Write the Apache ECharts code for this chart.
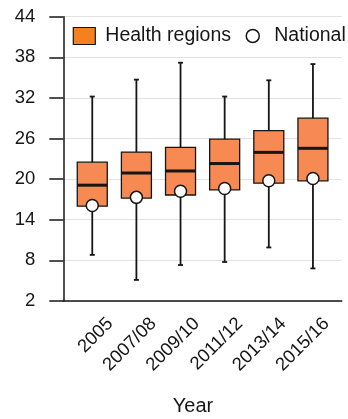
<!DOCTYPE html>
<html>
<head>
<meta charset="utf-8">
<script src="https://cdn.jsdelivr.net/npm/echarts@6/dist/echarts.min.js"></script>
<style>
  html, body { margin: 0; padding: 0; background: #fff; }
  #chart { width: 348px; height: 419px; }
</style>
</head>
<body>
<div id="chart"></div>
<script>
// Survey years
const categories = ['2005', '2007/08', '2009/10', '2011/12', '2013/14', '2015/16'];

// Distribution across health regions (%)
const whiskerLow  = [8.8, 5.1, 7.3, 7.75, 9.9, 6.8];
const quartile1   = [16.0, 17.2, 17.65, 18.4, 19.4, 19.75];
const medians     = [19.1, 20.9, 21.2, 22.3, 23.95, 24.55];
const quartile3   = [22.5, 24.0, 24.7, 25.9, 27.15, 29.0];
const whiskerHigh = [32.2, 34.7, 37.2, 32.2, 34.6, 37.0];

// National estimate (%)
const national = [16.1, 17.3, 18.2, 18.6, 19.75, 20.1];

// Value axis ticks
const yMin = 2;
const yMax = 44;
const yStep = 6;

const boxRows = categories.map((c, i) => [i, whiskerLow[i], quartile1[i], medians[i], quartile3[i], whiskerHigh[i]]);
const nationalRows = categories.map((c, i) => [i, national[i]]);

const ink = '#161616';
const boxFill = '#f78a52';
const legendOrange = '#f5801f';
const FONT = 'Liberation Sans, Arial, sans-serif';

function renderBox(params, api) {
  const i = api.value(0);
  const x = api.coord([i, 0])[0];
  const yLow = api.coord([i, api.value(1)])[1];
  const yQ1 = api.coord([i, api.value(2)])[1];
  const yMed = api.coord([i, api.value(3)])[1];
  const yQ3 = api.coord([i, api.value(4)])[1];
  const yHigh = api.coord([i, api.value(5)])[1];
  const halfBox = 15;
  const halfCap = 2.5;
  const thin = { stroke: ink, lineWidth: 1.8 };
  return {
    type: 'group',
    children: [
      { type: 'line', shape: { x1: x, y1: yHigh, x2: x, y2: yLow }, style: thin },
      { type: 'line', shape: { x1: x - halfCap, y1: yHigh, x2: x + halfCap, y2: yHigh }, style: thin },
      { type: 'line', shape: { x1: x - halfCap, y1: yLow, x2: x + halfCap, y2: yLow }, style: thin },
      { type: 'rect', shape: { x: x - halfBox, y: yQ3, width: halfBox * 2, height: yQ1 - yQ3 },
        style: { fill: boxFill, stroke: ink, lineWidth: 1.3 } },
      { type: 'line', shape: { x1: x - halfBox, y1: yMed, x2: x + halfBox, y2: yMed },
        style: { stroke: ink, lineWidth: 3 } }
    ]
  };
}

const chart = echarts.init(document.getElementById('chart'), null, { renderer: 'canvas' });

const frameTop = 16.7;
const frameBottom = 419 - 300.9;

chart.setOption({
  animation: false,
  textStyle: { fontFamily: FONT },
  grid: [
    { left: 63.3, right: 6.3, top: frameTop, bottom: frameBottom },
    { left: 70.2, width: 264.8, top: frameTop, bottom: frameBottom },
    { left: 88.6, width: 272.4, top: frameTop, bottom: frameBottom }
  ],
  xAxis: [
    { gridIndex: 0, type: 'value', min: 0, max: 1,
      axisLine: { show: true, lineStyle: { color: ink, width: 1.5 } },
      axisTick: { show: false }, axisLabel: { show: false }, splitLine: { show: false } },
    { gridIndex: 1, type: 'category', data: categories,
      axisLine: { show: false }, axisTick: { show: false }, axisLabel: { show: false } },
    { gridIndex: 2, type: 'category', data: categories,
      axisLine: { show: false }, axisTick: { show: false },
      axisLabel: { rotate: 45, margin: 20, fontSize: 18.5, color: ink, fontFamily: FONT, interval: 0 } }
  ],
  yAxis: [
    { gridIndex: 0, type: 'value', min: yMin, max: yMax, interval: yStep,
      axisLine: { show: true, lineStyle: { color: ink, width: 1.5 } },
      axisTick: { show: true, inside: false, length: 14, lineStyle: { color: ink, width: 1.5 } },
      axisLabel: { fontSize: 18.5, color: ink, margin: 28, fontFamily: FONT },
      splitLine: { show: true, lineStyle: { color: '#e2e2e2', width: 1 } } },
    { gridIndex: 1, type: 'value', min: yMin, max: yMax, interval: yStep,
      axisLine: { show: false }, axisTick: { show: false }, axisLabel: { show: false }, splitLine: { show: false } },
    { gridIndex: 2, type: 'value', min: yMin, max: yMax, interval: yStep,
      axisLine: { show: false }, axisTick: { show: false }, axisLabel: { show: false }, splitLine: { show: false } }
  ],
  legend: [
    { left: 72.7, top: 26, padding: 0, itemWidth: 22, itemHeight: 17,
      data: [{ name: 'Health regions', icon: 'rect',
               itemStyle: { color: legendOrange, borderColor: ink, borderWidth: 1.2 } }],
      textStyle: { fontSize: 19.5, color: ink, fontFamily: FONT, padding: [0, 0, 0, 5] } },
    { left: 245.5, top: 26, padding: 0, itemWidth: 33, itemHeight: 13,
      data: [{ name: 'National', icon: 'circle',
               itemStyle: { color: '#fff', borderColor: ink, borderWidth: 1.5 } }],
      textStyle: { fontSize: 19.5, color: ink, fontFamily: FONT } }
  ],
  graphic: [
    { type: 'text', x: 193, y: 396,
      style: { text: 'Year', fontSize: 20, fill: ink, fontFamily: FONT, textAlign: 'center', textVerticalAlign: 'top' } }
  ],
  series: [
    { name: 'Health regions', type: 'custom', xAxisIndex: 1, yAxisIndex: 1,
      itemStyle: { color: legendOrange },
      renderItem: renderBox,
      encode: { x: 0, y: [1, 2, 3, 4, 5] },
      data: boxRows, z: 2 },
    { name: 'National', type: 'scatter', xAxisIndex: 1, yAxisIndex: 1,
      symbol: 'circle', symbolSize: 12,
      itemStyle: { color: '#fff', borderColor: ink, borderWidth: 1.5, opacity: 1 },
      data: nationalRows, z: 5 }
  ]
});
</script>
</body>
</html>
